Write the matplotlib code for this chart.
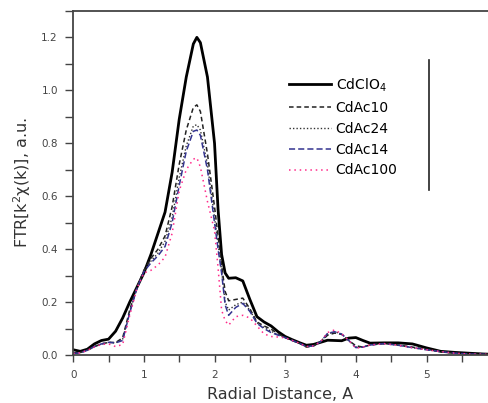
import matplotlib
matplotlib.use("Agg")
import matplotlib.pyplot as plt
from matplotlib.ticker import MultipleLocator

plt.rcParams['font.family'] = ['DejaVu Sans']

# radial distance grid (A)
r = [0, 0.1, 0.2, 0.3, 0.4, 0.5, 0.6, 0.7, 0.8, 0.9, 1.0, 1.1, 1.2, 1.3, 1.4,
     1.5, 1.6, 1.7, 1.75, 1.8, 1.9, 2.0, 2.05, 2.1, 2.15, 2.2, 2.3, 2.4, 2.5,
     2.6, 2.7, 2.8, 2.9, 3.0, 3.1, 3.2, 3.3, 3.4, 3.5, 3.6, 3.7, 3.8, 3.9, 4.0,
     4.1, 4.2, 4.4, 4.6, 4.8, 5.0, 5.2, 5.4, 5.6, 5.8, 5.9]

cdclo4 = [0.020, 0.014, 0.022, 0.042, 0.055, 0.060, 0.090, 0.140, 0.200, 0.255,
          0.310, 0.380, 0.460, 0.540, 0.690, 0.890, 1.050, 1.175, 1.200, 1.180,
          1.050, 0.800, 0.550, 0.380, 0.310, 0.290, 0.292, 0.280, 0.210, 0.145,
          0.125, 0.110, 0.088, 0.070, 0.058, 0.047, 0.037, 0.040, 0.048, 0.056,
          0.055, 0.054, 0.064, 0.066, 0.055, 0.045, 0.046, 0.046, 0.042, 0.027,
          0.014, 0.010, 0.007, 0.004, 0.003]

cdac10 = [0.008, 0.010, 0.018, 0.032, 0.042, 0.048, 0.047, 0.065, 0.170, 0.255,
          0.320, 0.365, 0.400, 0.450, 0.560, 0.720, 0.850, 0.935, 0.945, 0.920,
          0.760, 0.560, 0.450, 0.340, 0.240, 0.205, 0.210, 0.215, 0.175, 0.125,
          0.110, 0.098, 0.080, 0.066, 0.055, 0.045, 0.030, 0.034, 0.050, 0.075,
          0.083, 0.078, 0.055, 0.035, 0.030, 0.038, 0.044, 0.038, 0.030, 0.022,
          0.013, 0.007, 0.004, 0.003, 0.003]

cdac24 = [0.007, 0.009, 0.018, 0.032, 0.042, 0.048, 0.046, 0.060, 0.165, 0.252,
          0.318, 0.355, 0.385, 0.430, 0.520, 0.670, 0.790, 0.865, 0.870, 0.850,
          0.720, 0.520, 0.420, 0.320, 0.200, 0.170, 0.190, 0.200, 0.170, 0.122,
          0.104, 0.090, 0.077, 0.066, 0.055, 0.045, 0.031, 0.035, 0.050, 0.080,
          0.088, 0.079, 0.055, 0.030, 0.030, 0.038, 0.043, 0.037, 0.028, 0.020,
          0.013, 0.007, 0.004, 0.003, 0.003]

cdac14 = [0.006, 0.008, 0.018, 0.032, 0.042, 0.048, 0.046, 0.055, 0.160, 0.250,
          0.315, 0.348, 0.375, 0.410, 0.500, 0.640, 0.770, 0.845, 0.850, 0.830,
          0.700, 0.500, 0.400, 0.310, 0.190, 0.150, 0.180, 0.195, 0.165, 0.120,
          0.100, 0.085, 0.075, 0.066, 0.055, 0.045, 0.032, 0.035, 0.050, 0.082,
          0.088, 0.079, 0.055, 0.028, 0.030, 0.038, 0.043, 0.037, 0.028, 0.020,
          0.013, 0.007, 0.004, 0.003, 0.003]

cdac100 = [0.006, 0.008, 0.018, 0.030, 0.040, 0.042, 0.032, 0.040, 0.150, 0.250,
           0.310, 0.320, 0.340, 0.370, 0.460, 0.620, 0.700, 0.740, 0.745, 0.710,
           0.580, 0.470, 0.330, 0.170, 0.130, 0.113, 0.145, 0.150, 0.140, 0.110,
           0.080, 0.070, 0.068, 0.065, 0.055, 0.045, 0.032, 0.035, 0.050, 0.085,
           0.095, 0.080, 0.055, 0.026, 0.030, 0.038, 0.043, 0.037, 0.028, 0.020,
           0.013, 0.007, 0.004, 0.003, 0.003]

fig = plt.figure(figsize=(4.88, 4.03), dpi=100)
ax = fig.add_axes([0.15, 0.119, 0.85, 0.854])

ax.plot(r, cdclo4, color='black', lw=2.0, ls='-', label='CdClO$_4$')
ax.plot(r, cdac10, color='#222222', lw=1.1, ls=(0, (3, 2)), label='CdAc10')
ax.plot(r, cdac24, color='#333333', lw=1.0, ls=(0, (1, 1.5)), label='CdAc24')
ax.plot(r, cdac14, color='#33338f', lw=1.1, ls=(0, (4, 2)), label='CdAc14')
ax.plot(r, cdac100, color='#ff2a8a', lw=1.1, ls=(0, (1, 2.5)), label='CdAc100')

ax.set_xlim(0, 5.87)
ax.set_ylim(0, 1.3)
ax.xaxis.set_major_locator(MultipleLocator(1))
ax.xaxis.set_minor_locator(MultipleLocator(0.5))
ax.yaxis.set_minor_locator(MultipleLocator(0.1))
ax.set_yticks([0, 0.2, 0.4, 0.6, 0.8, 1.0, 1.2])

for s in ['left', 'top', 'bottom']:
    ax.spines[s].set_color('#444444')
    ax.spines[s].set_linewidth(1.3)
ax.spines['right'].set_visible(False)

ax.tick_params(which='both', direction='out', width=1, color='#444444',
               labelsize=7.5, labelcolor='#444444')
ax.tick_params(axis='y', which='both', length=6, pad=5)
ax.tick_params(axis='x', which='both', length=5, pad=6)
ax.tick_params(top=False, right=False)

ax.set_xlabel('Radial Distance, A', fontsize=11.5, color='#333333', labelpad=5)
ax.set_ylabel('FTR[k$^2$χ(k)], a.u.', fontsize=11.5, color='#333333', labelpad=6)

ax.legend(loc='upper left', bbox_to_anchor=(0.52, 0.81), frameon=False,
          fontsize=10, handlelength=3.0, handletextpad=0.36, labelspacing=0.5,
          borderpad=0, borderaxespad=0)
ax.axvline(5.04, ymin=0.48, ymax=0.858, color='#222222', lw=1.2)

fig.savefig('out.png', dpi=100)
